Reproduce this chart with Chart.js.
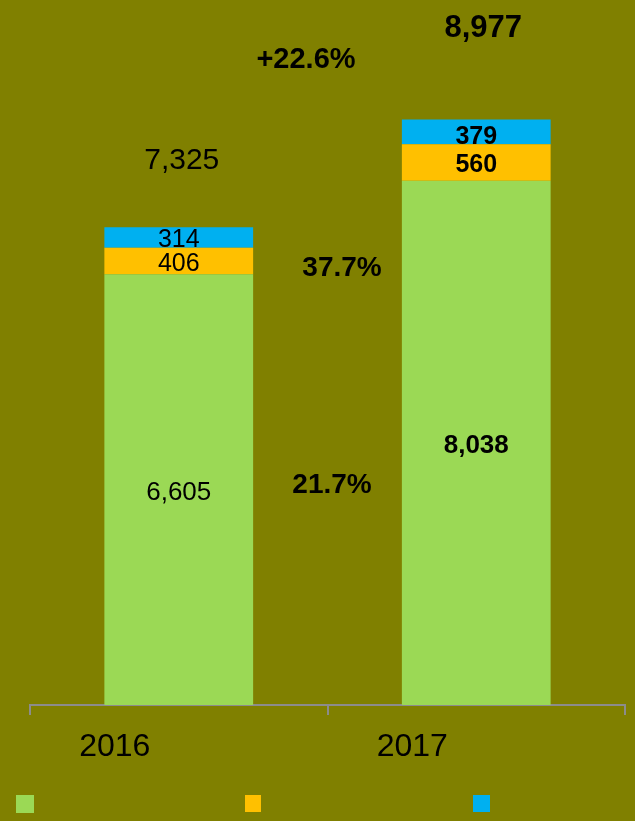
<!DOCTYPE html>
<html>
<head>
<meta charset="utf-8">
<script src="https://cdn.jsdelivr.net/npm/chart.js@4"></script>
<style>
  html, body { margin: 0; padding: 0; background: #808000; }
  #wrap { width: 635px; height: 821px; position: relative; }
</style>
</head>
<body>
<div id="wrap"><canvas id="c"></canvas></div>
<script>
const categories = ['2016', '2017'];
const seriesGreen = [6605, 8038];
const seriesOrange = [406, 560];
const seriesBlue = [314, 379];
const totalLabels = ['7,325', '8,977'];
const growthLabels = ['21.7%', '37.7%', '+22.6%'];
const colors = ['#9BD955', '#FFC000', '#00B0F0'];

const FONT = '"Liberation Sans", Arial, sans-serif';

const labelPlugin = {
  id: 'labels',
  afterDatasetsDraw(chart) {
    const ctx = chart.ctx;
    const xs = chart.scales.x;
    ctx.save();
    ctx.fillStyle = '#000';
    ctx.textAlign = 'center';
    ctx.textBaseline = 'middle';
    // segment labels
    chart.data.datasets.forEach((ds, di) => {
      const meta = chart.getDatasetMeta(di);
      meta.data.forEach((bar, i) => {
        const bold = i === 1;
        ctx.font = (bold ? 'bold ' : '') + (di === 0 ? 26 : 25) + 'px ' + FONT;
        const dy = (di === 2 && i === 1) ? 5 : 3;
        const yc = (bar.y + bar.base) / 2 + dy;
        ctx.fillText(ds.data[i].toLocaleString('en-US'), bar.x, yc);
      });
    });
    // totals
    const topMeta = chart.getDatasetMeta(2);
    ctx.font = '30px ' + FONT;
    ctx.fillText(totalLabels[0], topMeta.data[0].x + 3, topMeta.data[0].y - 67);
    ctx.font = 'bold 31px ' + FONT;
    ctx.fillText(totalLabels[1], topMeta.data[1].x + 7, topMeta.data[1].y - 91);
    // growth labels
    const mid = (xs.getPixelForValue(0) + xs.getPixelForValue(1)) / 2;
    ctx.font = 'bold 28px ' + FONT;
    ctx.fillText(growthLabels[0], mid + 4.5, 485);
    ctx.fillText(growthLabels[1], mid + 14.5, 268);
    ctx.font = 'bold 29px ' + FONT;
    ctx.fillText(growthLabels[2], mid - 21.5, 60);
    // legend squares (no text)
    const boxes = [[16, 795, 18, 18], [245, 795, 16, 17], [473, 795, 17, 17]];
    boxes.forEach((b, k) => {
      ctx.fillStyle = colors[k];
      ctx.fillRect(b[0], b[1], b[2], b[3]);
    });
    ctx.restore();
  }
};

new Chart(document.getElementById('c'), {
  type: 'bar',
  plugins: [labelPlugin],
  data: {
    labels: categories,
    datasets: [
      { label: 'A', data: seriesGreen, backgroundColor: colors[0] },
      { label: 'B', data: seriesOrange, backgroundColor: colors[1] },
      { label: 'C', data: seriesBlue, backgroundColor: colors[2] }
    ]
  },
  options: {
    responsive: true,
    maintainAspectRatio: false,
    animation: false,
    devicePixelRatio: 1,
    layout: { padding: { left: 30, right: 10, top: 0, bottom: 0 } },
    plugins: { legend: { display: false }, tooltip: { enabled: false } },
    datasets: { bar: { categoryPercentage: 1.0, barPercentage: 0.5, borderWidth: 0 } },
    scales: {
      x: {
        stacked: true,
        afterFit: (s) => { s.height = 116; },
        border: { display: true, color: '#8C8C8C', width: 2 },
        grid: { display: true, drawOnChartArea: false, drawTicks: true, tickLength: 10, color: '#8C8C8C', lineWidth: 2, offset: true },
        ticks: { color: '#000', font: { family: FONT, size: 32 }, padding: 13, labelOffset: -64 }
      },
      y: {
        stacked: true,
        display: false,
        min: 0,
        max: 10810
      }
    }
  }
});
</script>
</body>
</html>
